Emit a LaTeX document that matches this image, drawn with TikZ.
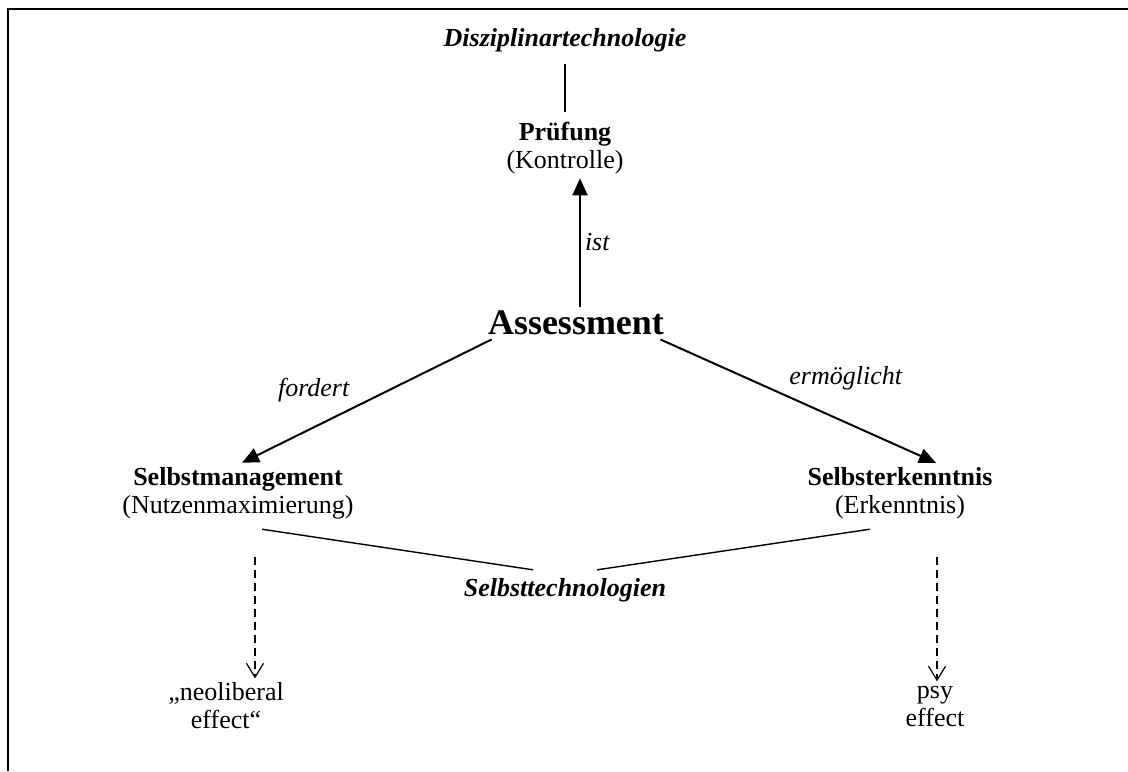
\documentclass[tikz,border=0pt]{standalone}
\usepackage{fontspec}
\setmainfont{Liberation Serif}
\usetikzlibrary{arrows.meta}

\begin{document}
\begin{tikzpicture}[x=0.5pt,y=-0.5pt,
        every node/.style = {align=center, inner sep=2pt, font=\fontsize{13}{14}\selectfont},
        title/.style = {font=\fontsize{13}{14}\selectfont\bfseries\itshape},
        relation/.style = {font=\fontsize{13}{14}\selectfont\itshape},
        main/.style = {font=\fontsize{18}{20}\selectfont\bfseries},
        solidarrow/.style = {draw, line width=1pt, -{Triangle[length=8.5pt,width=7.5pt]}},
        dasharrow/.style = {draw, line width=0.6pt, dash pattern=on 4pt off 2.5pt, -{Straight Barb[length=7pt,width=8.5pt]}},
        link/.style = {draw, line width=0.7pt}
    ]
    \useasboundingbox (0,0) rectangle (1128,771);
    \draw[line width=1pt] (8,771) -- (8,9) -- (1128,9);

    \node[title] (disz) at (565,40) {Disziplinartechnologie};
    \node (pruef) at (565,148) {\textbf{Prüfung}\\(Kontrolle)};
    \node[main] (assess) at (576,323) {Assessment};
    \node (selbm) at (238,493) {\textbf{Selbstmanagement}\\(Nutzenmaximierung)};
    \node (selbe) at (900,493) {\textbf{Selbsterkenntnis}\\(Erkenntnis)};
    \node[title] (selbt) at (565,590) {Selbsttechnologien};
    \node (neolib) at (226,706) {„neoliberal\\effect“};
    \node (psy) at (935,706) {psy\\effect};

    \draw[link, shorten <=4pt, shorten >=3pt] (disz) -- (pruef);
    \draw[solidarrow] ([xshift=2pt]assess.north) -- ([xshift=2pt]assess.north |- pruef.south)
        node[relation, midway, right] {ist};
    \draw[solidarrow] ([xshift=4pt]assess.south west) -- ([xshift=2pt]selbm.north)
        node[relation, pos=0.55, above left] {fordert};
    \draw[solidarrow] ([xshift=-4pt]assess.south east) -- ([xshift=18pt]selbe.north)
        node[relation, pos=0.45, above right] {ermöglicht};
    \draw[link] ([xshift=12pt, yshift=-3pt]selbm.south) -- ([xshift=-16pt, yshift=2pt]selbt.north);
    \draw[link] ([xshift=-15pt, yshift=-3pt]selbe.south) -- ([xshift=16pt, yshift=2pt]selbt.north);
    \draw[dasharrow, shorten <=17pt] ([xshift=8.5pt]selbm.south) -- ([xshift=8.5pt]selbm.south |- neolib.north);
    \draw[dasharrow, shorten <=17pt] ([xshift=18.5pt]selbe.south) -- ([xshift=18.5pt]selbe.south |- psy.north);
\end{tikzpicture}
\end{document}
